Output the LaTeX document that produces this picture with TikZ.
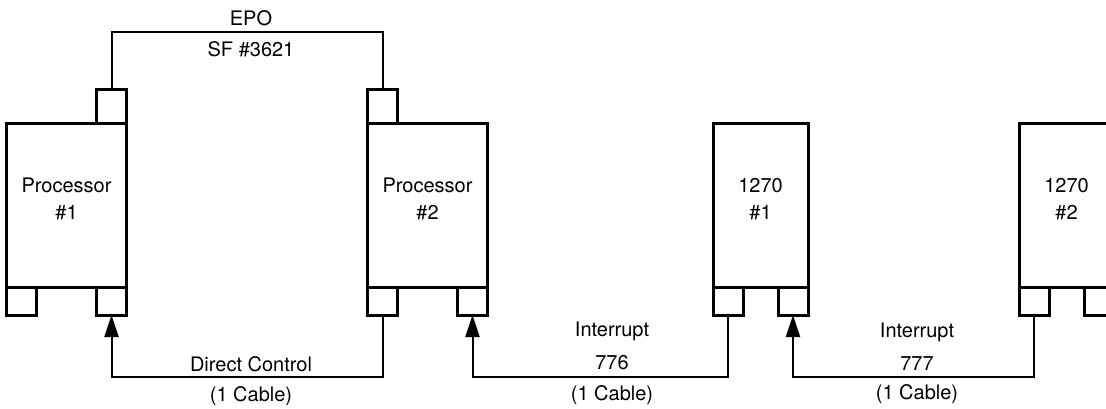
\documentclass[tikz,border=0pt]{standalone}
\usepackage{fontspec}
\setmainfont{TeX Gyre Heros}
\usetikzlibrary{arrows.meta,positioning}

\begin{document}
\begin{tikzpicture}[
    x=0.5pt, y=0.5pt,
    unit/.style={rectangle, draw=black, line width=1.5pt, outer sep=0pt,
                 minimum height=82pt, inner sep=0pt},
    proc/.style={unit, minimum width=60pt},
    ctl/.style={unit, minimum width=47.5pt},
    port/.style={rectangle, draw=black, line width=1.5pt, outer sep=0pt, inner sep=0pt,
                 minimum width=15pt, minimum height=14pt},
    tport/.style={port, minimum height=17pt},
    txt/.style={font=\fontsize{10}{13.5}\selectfont, align=center, inner sep=0pt},
    lbl/.style={txt, text height=7.2pt, text depth=0pt},
    cable/.style={line width=1pt, line join=miter},
    tip/.style={-{Triangle[length=11pt,width=7pt]}}
  ]
    \useasboundingbox (0,0) rectangle (1106,408);
    \clip (0,0) rectangle (1106,408);

    % Processors
    \node[proc] (cpu1) at (66.5,203) {};
    \node[proc] (cpu2) at (427.5,203) {};
    \node[txt] at ([yshift=3pt]cpu1.center) {Processor\\\#1};
    \node[txt] at ([yshift=3pt]cpu2.center) {Processor\\\#2};

    % 1270 units
    \node[ctl] (ctla) at (760.5,203) {};
    \node[ctl] (ctlb) at (1066.5,203) {};
    \node[txt] at ([yshift=3pt]ctla.center) {1270\\\#1};
    \node[txt] at ([yshift=3pt]ctlb.center) {1270\\\#2};

    % Ports
    \node[tport, anchor=south east] (cpu1t)  at (cpu1.north east) {};
    \node[port,  anchor=north west] (cpu1bl) at (cpu1.south west) {};
    \node[port,  anchor=north east] (cpu1br) at (cpu1.south east) {};
    \node[tport, anchor=south west] (cpu2t)  at (cpu2.north west) {};
    \node[port,  anchor=north west] (cpu2bl) at (cpu2.south west) {};
    \node[port,  anchor=north east] (cpu2br) at (cpu2.south east) {};
    \node[port,  anchor=north west] (ctlabl) at (ctla.south west) {};
    \node[port,  anchor=north east] (ctlabr) at (ctla.south east) {};
    \node[port,  anchor=north west] (ctlbbl) at (ctlb.south west) {};
    \node[port,  anchor=north east] (ctlbbr) at (ctlb.south east) {};

    % Cable bends
    \coordinate (epo)  at (250,376);
    \coordinate (dcc)  at (250,31);
    \coordinate (i776) at (612,31);
    \coordinate (i777) at (917,31);

    % Cables
    \draw[cable] (cpu1t.north) |- (epo) -| (cpu2t.north);
    \draw[cable, tip] (cpu2bl.south) |- (dcc) -| (cpu1br.south);
    \draw[cable, tip] (ctlabl.south) |- (i776) -| (cpu2br.south);
    \draw[cable, tip] (ctlbbl.south) |- (i777) -| (ctlabr.south);

    % Cable labels
    \node[lbl] (epoa) at (251,390) {EPO};
    \node[lbl] (epob) at (251,359) {SF \#3621};
    \node[lbl] (dcca) at (251,44)  {Direct Control};
    \node[lbl] (dccb) at (251,14)  {(1 Cable)};
    \node[lbl] (ia)   at (612,79)  {Interrupt};
    \node[lbl] (ib)   at (612,46)  {776};
    \node[lbl] (ic)   at (612,15)  {(1 Cable)};
    \node[lbl] (ja)   at (917,78)  {Interrupt};
    \node[lbl] (jb)   at (917,45)  {777};
    \node[lbl] (jc)   at (917,16)  {(1 Cable)};
  \end{tikzpicture}
\end{document}
